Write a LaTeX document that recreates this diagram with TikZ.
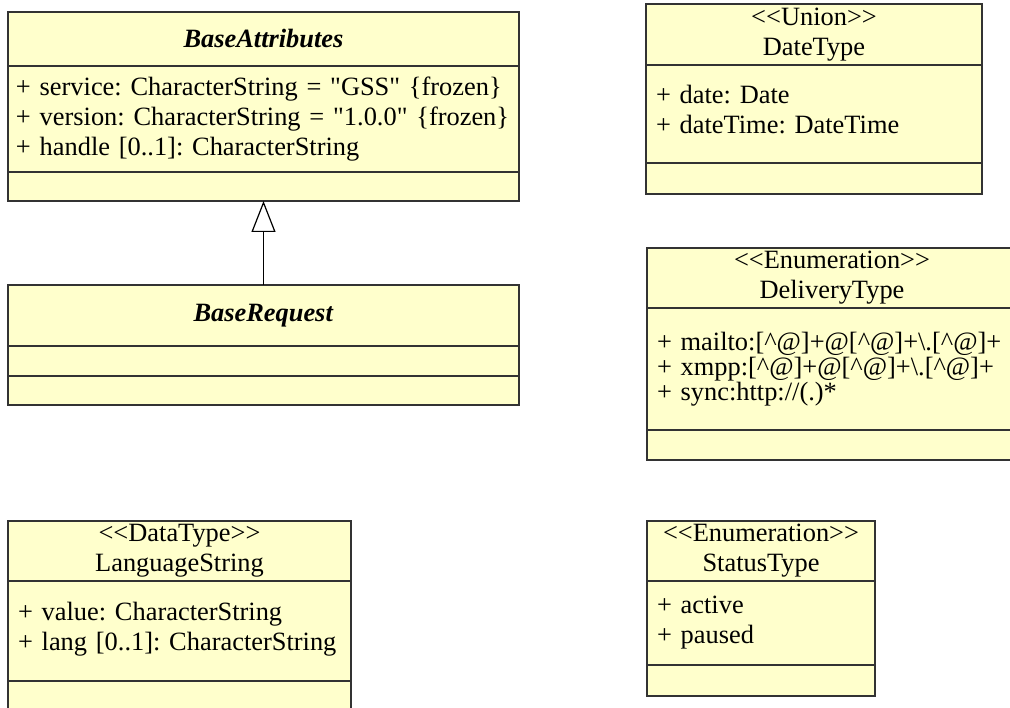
\documentclass[tikz,border=0pt]{standalone}
\usepackage{fontspec}
\setmainfont{Liberation Serif}
\usepackage{xcolor}
\usetikzlibrary{shapes,arrows.meta,positioning}
\definecolor{umlfill}{RGB}{255,255,204}
\definecolor{umlline}{RGB}{51,51,51}
\newcommand{\stereo}[1]{{<}{<}#1{>}{>}}
\newcommand{\caret}{\textasciicircum{}}
\newcommand{\qq}[1]{\textquotedbl #1\textquotedbl}
\tikzstyle{part} = [draw=umlline, fill=umlfill, rectangle, line width=1.6pt, inner xsep=10pt, inner ysep=0pt, outer sep=0pt]
\tikzstyle{title} = [part, align=center]
\tikzstyle{fields} = [part, align=left]

\begin{document}
\frenchspacing
\begin{tikzpicture}[x=1pt, y=-1pt, >={Triangle[open, length=31pt, width=24pt]}]
    \tikzset{font={\fontsize{26.4pt}{30pt}\selectfont}}
    \clip (0,0) rectangle (1010,708);
    \node [title, text width=491pt, minimum height=54pt, anchor=north] (bat) at (263.5,12) {\textbf{\textit{BaseAttributes}}};
    \node [fields, text width=495pt, inner xsep=8pt, minimum height=106pt, below=0pt of bat] (baf) {+ service: CharacterString = \qq{GSS} \{frozen\}\\ + version: CharacterString = \qq{1.0.0} \{frozen\}\\ + handle [0..1]: CharacterString};
    \node [fields, text width=491pt, minimum height=29pt, below=0pt of baf] (bao) {};
    \node [title, text width=491pt, minimum height=61pt, anchor=north] (brt) at (263.5,285) {\textbf{\textit{BaseRequest}}};
    \node [fields, text width=491pt, minimum height=30pt, below=0pt of brt] (brf) {};
    \node [fields, text width=491pt, minimum height=29pt, below=0pt of brf] (bro) {};

    \node [title, text width=316pt, minimum height=61pt, anchor=north] (dtt) at (814,4) {\stereo{Union}\\ DateType};
    \node [fields, text width=316pt, minimum height=98pt, below=0pt of dtt] (dtf) {+ date: Date\\ + dateTime: DateTime\\[-20pt]\mbox{}};
    \node [fields, text width=316pt, minimum height=31pt, below=0pt of dtf] (dto) {};

    \node [title, text width=350pt, minimum height=60pt, anchor=north] (dlt) at (832,248) {\stereo{Enumeration}\\ DeliveryType};
    \node [fields, text width=350pt, minimum height=122pt, below=0pt of dlt, font={\fontsize{26.4pt}{25pt}\selectfont}] (dlf) {+ mailto:[\caret @]+@[\caret @]+\textbackslash.[\caret @]+\\ + xmpp:[\caret @]+@[\caret @]+\textbackslash.[\caret @]+\\ + sync:http://(.)*};
    \node [fields, text width=350pt, minimum height=30pt, below=0pt of dlf] (dlo) {};

    \node [title, text width=323pt, minimum height=60pt, anchor=north] (lst) at (179.5,521) {\stereo{DataType}\\ LanguageString};
    \node [fields, text width=323pt, minimum height=100pt, below=0pt of lst] (lsf) {+ value: CharacterString\\ + lang [0..1]: CharacterString\\[-20pt]\mbox{}};
    \node [fields, text width=323pt, minimum height=31pt, below=0pt of lsf] (lso) {};

    \node [title, text width=208pt, minimum height=60pt, anchor=north] (stt) at (761,521) {\stereo{Enumeration}\\ StatusType};
    \node [fields, text width=208pt, minimum height=84pt, below=0pt of stt] (stf) {+ active\\ + paused};
    \node [fields, text width=208pt, minimum height=31pt, below=0pt of stf] (sto) {};

    % Generalization
    \draw [->, line width=1.2pt] (brt.north) -- (bao.south);
\end{tikzpicture}
\end{document}
